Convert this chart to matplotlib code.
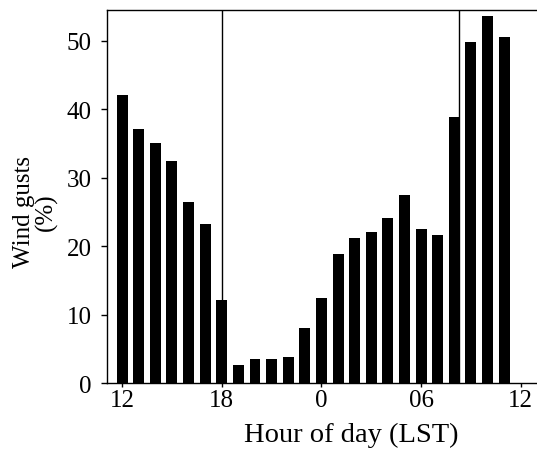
import numpy as np
import matplotlib
matplotlib.use("Agg")
import matplotlib.pyplot as plt

# hours 12 LST through 11 LST next day
hours = [12, 13, 14, 15, 16, 17, 18, 19, 20, 21, 22, 23,
         0, 1, 2, 3, 4, 5, 6, 7, 8, 9, 10, 11]
gusts = [42.0, 37.1, 35.0, 32.4, 26.5, 23.2, 12.2, 2.6, 3.5, 3.5, 3.8, 8.0,
         12.4, 18.9, 21.2, 22.1, 24.1, 27.4, 22.5, 21.7, 38.8, 49.8, 53.6, 50.5]
tick_pos = [0, 6, 12, 18, 24]
tick_labels = ['12', '18', '0', '06', '12']
sun_lines = [6, 20.28]  # sunset / sunrise markers

plt.rcParams['font.family'] = ['Liberation Serif', 'DejaVu Serif']

fig = plt.figure(figsize=(5.37, 4.52), dpi=100)
ax = fig.add_axes([0.199, 0.150, 0.801, 0.826])

x = np.arange(len(hours))
ax.bar(x, gusts, width=0.66, color='black', edgecolor='none')
for s in sun_lines:
    ax.axvline(s, color='black', linewidth=1.0)

ax.set_xlim(-0.92, 24.98)
ax.set_ylim(0, 54.5)
ax.set_xticks(tick_pos)
ax.set_xticklabels(tick_labels)
ax.set_yticks([0, 10, 20, 30, 40, 50])

ax.spines['right'].set_visible(False)
for sp in ['left', 'bottom', 'top']:
    ax.spines[sp].set_linewidth(1.0)
ax.tick_params(direction='out', width=1.0, labelsize=18)
ax.tick_params(axis='x', length=3, pad=1)
ax.tick_params(axis='y', length=4, pad=7)

ax.set_ylabel('Wind gusts\n(%)', fontsize=18, linespacing=1.0)
ax.yaxis.set_label_coords(-0.114, 0.46)
ax.set_xlabel('Hour of day (LST)', fontsize=20.5)
ax.xaxis.set_label_coords(0.567, -0.103)

plt.savefig('out.png', dpi=100)
plt.close()
